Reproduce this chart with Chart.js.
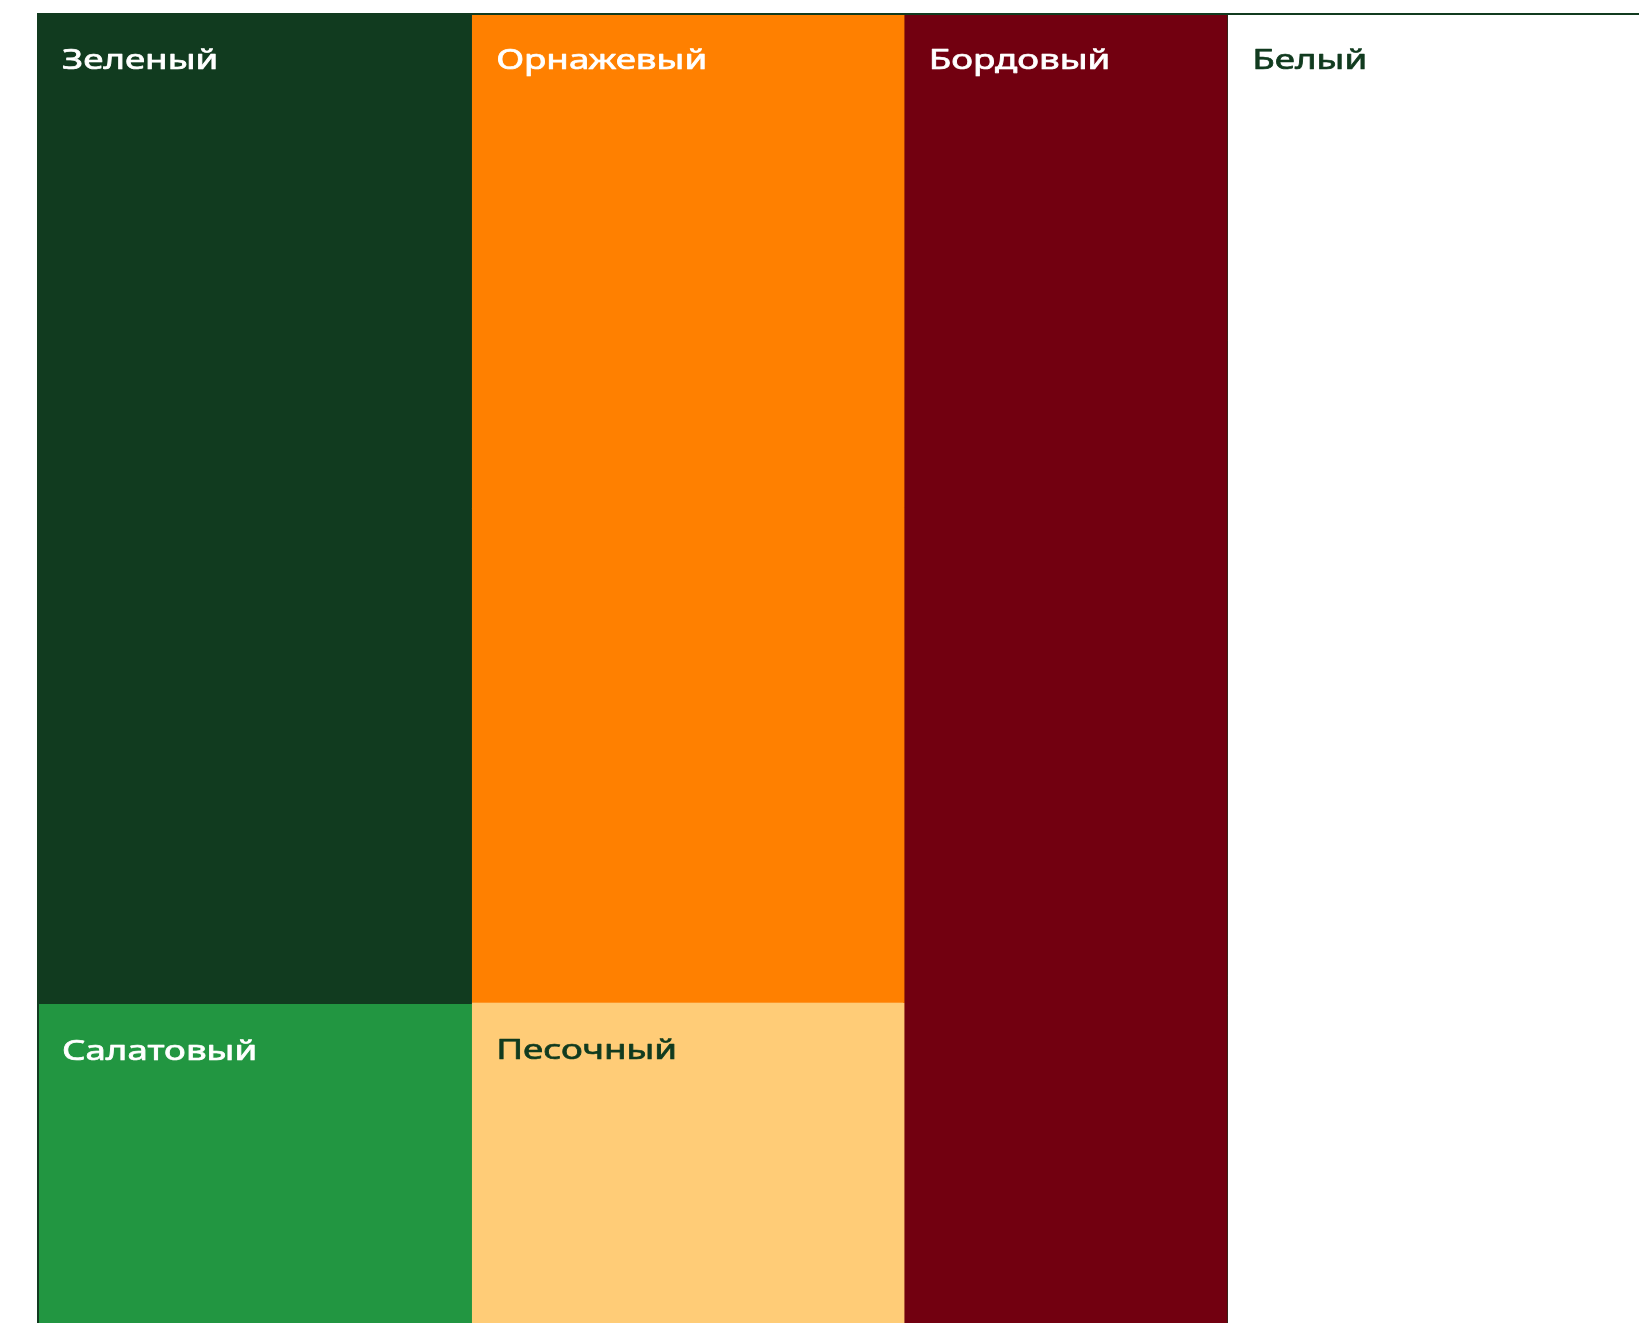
<!DOCTYPE html>
<html>
<head>
<meta charset="utf-8">
<style>
  html, body { margin: 0; padding: 0; background: #fff; overflow: hidden; }
  #canvas { display: block; }
</style>
<script src="https://cdn.jsdelivr.net/npm/chart.js@4.4.1/dist/chart.umd.min.js"></script>
</head>
<body>
<canvas id="canvas" width="1639" height="1323"></canvas>
<script>
// palette shares (in % of the whole area), grouped in columns
var names = ['Зеленый', 'Салатовый', 'Орнажевый', 'Песочный', 'Бордовый', 'Белый'];
var values = [20.5, 6.6, 20.4, 6.6, 20.2, 25.7];
var columns = [0, 0, 1, 1, 2, 3];
var colors = ['#113b1f', '#229641', '#ff8000', '#ffcc77', '#720010', '#ffffff'];
var textColors = ['#ffffff', '#ffffff', '#ffffff', '#113b1f', '#ffffff', '#113b1f'];

window.onload = function () {
  // slice and dice: column width = sum of its values, height inside column = share
  var colSum = [];
  for (var i = 0; i < values.length; i++) {
    colSum[columns[i]] = (colSum[columns[i]] || 0) + values[i];
  }
  var colStart = [], acc = 0;
  for (var c = 0; c < colSum.length; c++) { colStart[c] = acc; acc += colSum[c]; }

  var rects = [], used = [];
  for (var i = 0; i < values.length; i++) {
    var c = columns[i];
    var y0 = used[c] || 0;
    var y1 = y0 + values[i] / colSum[c] * 100;
    used[c] = y1;
    rects.push({ x0: colStart[c], x1: colStart[c] + colSum[c], y0: y0, y1: y1 });
  }

  // each tile = a line going up the left side, along the top, down the right side,
  // filled down to its bottom value; the 1px stroke in the same colour hides seams
  var datasets = rects.map(function (r, i) {
    return {
      label: names[i],
      data: [
        { x: r.x0, y: r.y1 }, { x: r.x0, y: r.y0 },
        { x: r.x1, y: r.y0 }, { x: r.x1, y: r.y1 }
      ],
      fill: { value: r.y1 },
      backgroundColor: colors[i],
      borderColor: colors[i],
      borderWidth: 1,
      pointRadius: 0,
      tension: 0
    };
  });

  var labelsPlugin = {
    id: 'tileLabels',
    afterDatasetsDraw: function (chart) {
      var ctx = chart.ctx, xs = chart.scales.x, ys = chart.scales.y, a = chart.chartArea;
      ctx.save();
      // thin edge of the white tile
      rects.forEach(function (r, i) {
        if (colors[i] == '#ffffff') {
          var px = Math.round(xs.getPixelForValue(r.x0)) + 0.5;
          ctx.strokeStyle = 'rgba(17,59,31,0.6)';
          ctx.lineWidth = 1;
          ctx.beginPath();
          ctx.moveTo(px, ys.getPixelForValue(r.y0));
          ctx.lineTo(px, ys.getPixelForValue(r.y1));
          ctx.stroke();
        }
      });
      // outer frame (top and left)
      ctx.strokeStyle = '#113b1f';
      ctx.lineWidth = 2;
      ctx.beginPath();
      ctx.moveTo(a.left + 1, a.bottom);
      ctx.lineTo(a.left + 1, a.top + 1);
      ctx.lineTo(a.right, a.top + 1);
      ctx.stroke();
      // tile names (wide medium lettering: regular face stretched, lightly stroked)
      ctx.font = '400 28px "Noto Sans"';
      ctx.textBaseline = 'alphabetic';
      ctx.lineJoin = 'round';
      rects.forEach(function (r, i) {
        var px = xs.getPixelForValue(r.x0) + 25;
        var py = ys.getPixelForValue(r.y0) + 56;
        ctx.save();
        ctx.translate(px, py);
        ctx.scale(1.31, 1);
        ctx.fillStyle = textColors[i];
        ctx.strokeStyle = textColors[i];
        ctx.lineWidth = 0.7;
        ctx.fillText(names[i], 0, 0);
        ctx.strokeText(names[i], 0, 0);
        ctx.restore();
      });
      ctx.restore();
    }
  };

  var ctx = document.getElementById('canvas').getContext('2d');
  window.myChart = new Chart(ctx, {
    type: 'line',
    data: { datasets: datasets },
    options: {
      responsive: false,
      animation: false,
      devicePixelRatio: 1,
      layout: { padding: { left: 37, top: 13, right: 0, bottom: 0 } },
      plugins: {
        legend: { display: false },
        tooltip: { enabled: false }
      },
      scales: {
        x: { type: 'linear', min: 0, max: 100, display: false },
        y: { type: 'linear', min: 0, max: 100, reverse: true, display: false }
      }
    },
    plugins: [labelsPlugin]
  });
};
</script>
</body>
</html>
